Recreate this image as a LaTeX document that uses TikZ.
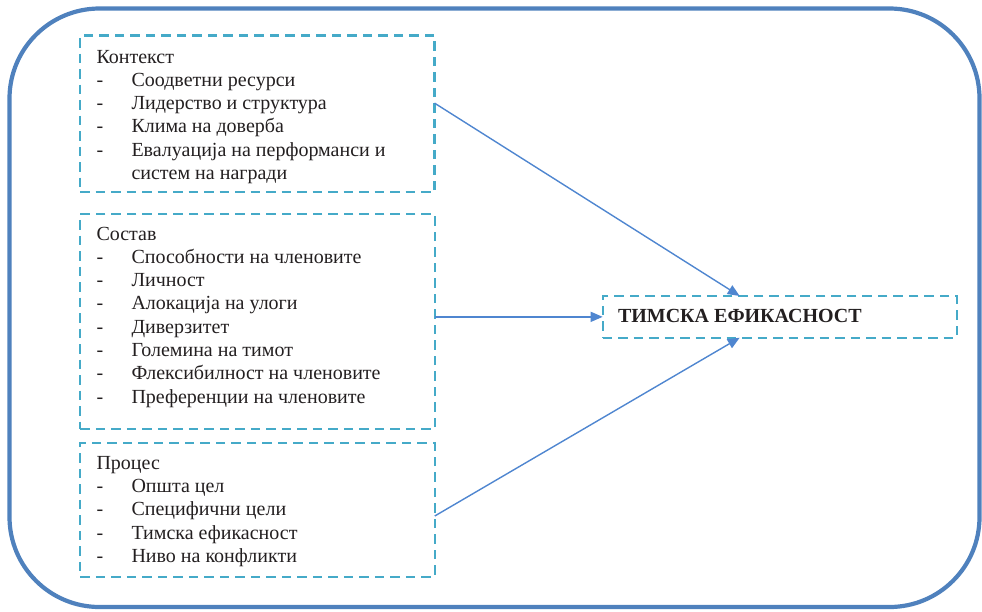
\documentclass[tikz,border=0pt]{standalone}
\usepackage{fontspec}
\setmainfont{Liberation Serif}
\usetikzlibrary{arrows.meta,calc}
\definecolor{frameblue}{HTML}{4F81BD}
\definecolor{aqua}{HTML}{45AAC8}
\definecolor{arrowblue}{HTML}{4F86D0}
\definecolor{ink}{HTML}{231F20}
\begin{document}
\begin{tikzpicture}[x=1pt,y=-1pt,
  dbox/.style={draw=aqua, line width=2.2pt, dash pattern=on 9.5pt off 6pt, inner sep=0pt, outer sep=0pt, minimum width=354.5pt},
  txt/.style={anchor=base west, inner sep=0pt, outer sep=0pt, text=ink, font=\fontsize{20}{23.3}\selectfont},
  conn/.style={draw=arrowblue, line width=1.4pt, -{Triangle[length=12pt,width=10pt]}}]
\useasboundingbox (0,0) rectangle (982,611);
\draw[frameblue, line width=4.2pt, rounded corners=90pt] (9.5,8.5) rectangle (979.5,607);

% boxes
\node[dbox, minimum height=156.5pt] (ctx) at (257.25,113.75) {};
\node[dbox, minimum height=215pt] (comp) at (257.5,321.7) {};
\node[dbox, minimum height=133.4pt] (proc) at (257.5,510) {};
\node[dbox, minimum width=354pt, minimum height=41.7pt] (eff) at (779.7,316.85) {};

% context
\node[txt] (k0) at (96.5,63) {Контекст};
\node[txt] (kd1) at (96.5,86.3) {-};  \node[txt] (k1) at (131.5,86.3) {Соодветни ресурси};
\node[txt] (kd2) at (96.5,109.6) {-}; \node[txt] (k2) at (131.5,109.6) {Лидерство и структура};
\node[txt] (kd3) at (96.5,132.9) {-}; \node[txt] (k3) at (131.5,132.9) {Клима на доверба};
\node[txt] (kd4) at (96.5,156.2) {-}; \node[txt] (k4) at (131.5,156.2) {Евалуација на перформанси и};
\node[txt] (k5) at (131.5,179.5) {систем на награди};

% composition
\node[txt] (s0) at (96.5,240) {Состав};
\node[txt] (sd1) at (96.5,263.3) {-}; \node[txt] (s1) at (131.5,263.3) {Способности на членовите};
\node[txt] (sd2) at (96.5,286.6) {-}; \node[txt] (s2) at (131.5,286.6) {Личност};
\node[txt] (sd3) at (96.5,309.9) {-}; \node[txt] (s3) at (131.5,309.9) {Алокација на улоги};
\node[txt] (sd4) at (96.5,333.2) {-}; \node[txt] (s4) at (131.5,333.2) {Диверзитет};
\node[txt] (sd5) at (96.5,356.5) {-}; \node[txt] (s5) at (131.5,356.5) {Големина на тимот};
\node[txt] (sd6) at (96.5,379.8) {-}; \node[txt] (s6) at (131.5,379.8) {Флексибилност на членовите};
\node[txt] (sd7) at (96.5,403.1) {-}; \node[txt] (s7) at (131.5,403.1) {Преференции на членовите};

% process
\node[txt] (p0) at (96.5,469.3) {Процес};
\node[txt] (pd1) at (96.5,492.6) {-}; \node[txt] (p1) at (131.5,492.6) {Општа цел};
\node[txt] (pd2) at (96.5,515.9) {-}; \node[txt] (p2) at (131.5,515.9) {Специфични цели};
\node[txt] (pd3) at (96.5,539.2) {-}; \node[txt] (p3) at (131.5,539.2) {Тимска ефикасност};
\node[txt] (pd4) at (96.5,562.5) {-}; \node[txt] (p4) at (131.5,562.5) {Ниво на конфликти};

% target text
\node[txt, font=\fontsize{20}{23.3}\selectfont\bfseries] (e0) at (618,322.7) {ТИМСКА ЕФИКАСНОСТ};

% connectors
\draw[conn] ($(ctx.north east)+(0,67.6)$) -- ($(eff.north west)+(137,0)$);
\draw[conn] (comp.east |- eff.west) -- (eff.west);
\draw[conn] ($(proc.north east)+(0,72.7)$) -- ($(eff.south west)+(137,0)$);
\end{tikzpicture}
\end{document}
